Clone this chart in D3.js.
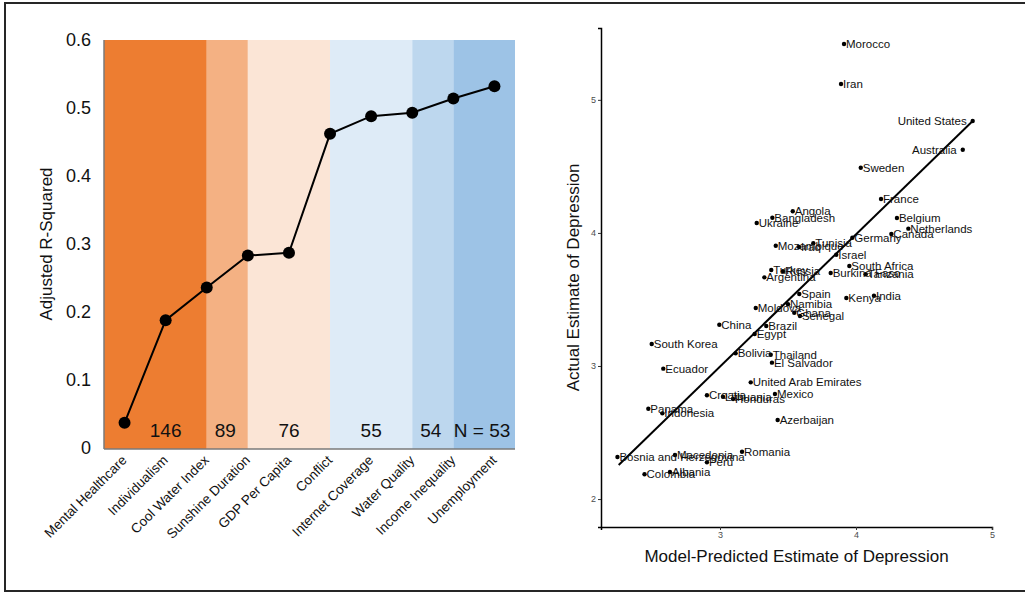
<!DOCTYPE html>
<html>
<head>
<meta charset="utf-8">
<script src="https://cdn.jsdelivr.net/npm/d3@7"></script>
<style>
  body { margin: 0; background: #fff; }
  svg { display: block; font-family: "Liberation Sans", Arial, sans-serif; }
</style>
</head>
<body>
<svg id="chart" width="1025" height="592"></svg>
<script>
// left panel: adjusted R-squared as predictors are added
const predictors = ['Mental Healthcare', 'Individualism', 'Cool Water Index', 'Sunshine Duration',
  'GDP Per Capita', 'Conflict', 'Internet Coverage', 'Water Quality', 'Income Inequality', 'Unemployment'];
const adjR2 = [0.037, 0.188, 0.236, 0.283, 0.287, 0.462, 0.488, 0.493, 0.514, 0.532];
const yTicks = [0, 0.1, 0.2, 0.3, 0.4, 0.5, 0.6];
// background bands (start/end in predictor index units) and sample sizes
const bandStart = [-0.5, 2, 3, 5, 7, 8];
const bandEnd = [2, 3, 5, 7, 8, 9.5];
const bandColors = ['#ED7D31', '#F4B183', '#FBE5D6', '#DEEBF7', '#BDD7EE', '#9DC3E6'];
const sampleLabels = ['146', '89', '76', '55', '54', 'N = 53'];
const sampleAt = [1, 2.45, 4, 6, 7.45, 8.7];

// right panel: actual vs predicted depression
const countries = ['Morocco', 'Iran', 'United States', 'Australia', 'Sweden', 'France', 'Angola',
  'Bangladesh', 'Ukraine', 'Belgium', 'Netherlands', 'Canada', 'Germany', 'Mozambique', 'Iraq',
  'Tunisia', 'Israel', 'South Africa', 'Burkina Faso', 'Tanzania', 'Turkey', 'Russia', 'Argentina',
  'Spain', 'Kenya', 'India', 'Namibia', 'Moldova', 'Ghana', 'Senegal', 'China', 'Brazil', 'Egypt',
  'South Korea', 'Bolivia', 'Thailand', 'El Salvador', 'Ecuador', 'United Arab Emirates', 'Croatia',
  'Lithuania', 'Honduras', 'Mexico', 'Panama', 'Indonesia', 'Azerbaijan', 'Romania',
  'Bosnia and Herzegovina', 'Macedonia', 'Peru', 'Colombia', 'Albania'];
const predicted = [3.912, 3.890, 4.858, 4.785, 4.035, 4.184, 3.535,
  3.385, 3.270, 4.301, 4.385, 4.260, 3.973, 3.410, 3.581,
  3.686, 3.855, 3.951, 3.814, 4.071, 3.377, 3.463, 3.326,
  3.583, 3.929, 4.132, 3.500, 3.263, 3.546, 3.588, 2.995, 3.340, 3.255,
  2.498, 3.115, 3.373, 3.382, 2.583, 3.226, 2.904,
  3.022, 3.096, 3.404, 2.473, 2.576, 3.424, 3.162,
  2.246, 2.669, 2.904, 2.445, 2.632];
const actual = [5.420, 5.119, 4.841, 4.625, 4.490, 4.255, 4.163,
  4.114, 4.075, 4.112, 4.032, 3.992, 3.964, 3.904, 3.894,
  3.922, 3.836, 3.751, 3.699, 3.689, 3.721, 3.712, 3.666,
  3.541, 3.511, 3.528, 3.464, 3.436, 3.400, 3.376, 3.310, 3.301, 3.240,
  3.165, 3.095, 3.085, 3.025, 2.980, 2.877, 2.780,
  2.769, 2.752, 2.789, 2.679, 2.644, 2.594, 2.356,
  2.316, 2.331, 2.276, 2.186, 2.203];
const labelLeft = ['United States', 'Australia'];
const fitX = [2.255, 4.858];
const fitY = [2.256, 4.841];
const xTicksR = [3, 4, 5];
const yTicksR = [2, 3, 4, 5];

const svg = d3.select('#chart');

// outer frame
svg.append('rect')
  .attr('x', 5).attr('y', 3).attr('width', 1030).attr('height', 588)
  .attr('fill', 'none').attr('stroke', '#262626').attr('stroke-width', 2);

// ---------- left panel ----------
const left = svg.append('g');
const xBand = d3.scaleBand().domain(predictors).range([104, 515]);
const xIdx = d3.scaleLinear().domain([0, 1]).range([xBand(predictors[0]) + xBand.bandwidth() / 2,
  xBand(predictors[1]) + xBand.bandwidth() / 2]);
const yL = d3.scaleLinear().domain([0, 0.6]).range([448, 40]);

left.selectAll('rect.band')
  .data(bandColors).enter()
  .append('rect')
  .attr('class', 'band')
  .attr('x', (d, i) => xIdx(bandStart[i]))
  .attr('width', (d, i) => xIdx(bandEnd[i]) - xIdx(bandStart[i]))
  .attr('y', yL(0.6))
  .attr('height', yL(0) - yL(0.6) + 1)
  .attr('fill', d => d);

left.selectAll('text.n')
  .data(sampleLabels).enter()
  .append('text')
  .attr('class', 'n')
  .attr('x', (d, i) => xIdx(sampleAt[i]))
  .attr('y', 437)
  .attr('text-anchor', 'middle')
  .attr('font-size', 19)
  .attr('fill', '#111')
  .text(d => d);

// axes lines
left.append('line').attr('x1', 104).attr('x2', 104).attr('y1', yL(0.6)).attr('y2', yL(0) + 1)
  .attr('stroke', '#7a7a7a').attr('stroke-width', 1.5);
left.append('line').attr('x1', 104).attr('x2', 515).attr('y1', yL(0) + 1).attr('y2', yL(0) + 1)
  .attr('stroke', '#7a7a7a').attr('stroke-width', 1.5);

left.selectAll('text.yt')
  .data(yTicks).enter()
  .append('text')
  .attr('class', 'yt')
  .attr('x', 91)
  .attr('y', d => yL(d))
  .attr('dy', '0.35em')
  .attr('text-anchor', 'end')
  .attr('font-size', 18)
  .attr('fill', '#111')
  .text(d => d === 0 ? '0' : d3.format('.1f')(d));

left.append('text')
  .attr('transform', 'translate(52,' + yL(0.3) + ') rotate(-90)')
  .attr('text-anchor', 'middle')
  .attr('font-size', 17)
  .attr('fill', '#111')
  .text('Adjusted R-Squared');

left.selectAll('text.xl')
  .data(predictors).enter()
  .append('text')
  .attr('class', 'xl')
  .attr('transform', d => 'translate(' + (xBand(d) + xBand.bandwidth() / 2 + 3) + ',461) rotate(-45)')
  .attr('text-anchor', 'end')
  .attr('font-size', 13.5)
  .attr('fill', '#111')
  .text(d => d);

const lineL = d3.line()
  .x((d, i) => xBand(predictors[i]) + xBand.bandwidth() / 2)
  .y(d => yL(d));
left.append('path')
  .datum(adjR2)
  .attr('d', lineL)
  .attr('fill', 'none')
  .attr('stroke', '#000')
  .attr('stroke-width', 2);
left.selectAll('circle')
  .data(adjR2).enter()
  .append('circle')
  .attr('cx', (d, i) => xBand(predictors[i]) + xBand.bandwidth() / 2)
  .attr('cy', d => yL(d))
  .attr('r', 6)
  .attr('fill', '#000');

// ---------- right panel ----------
const right = svg.append('g');
const xR = d3.scaleLinear().domain([2.125, 5]).range([601, 992]);
const yR = d3.scaleLinear().domain([1.79, 5.54]).range([527, 28]);

right.append('g')
  .attr('transform', 'translate(0,527)')
  .call(d3.axisBottom(xR).tickValues(xTicksR).tickSize(3).tickPadding(2).tickFormat(d3.format('d')))
  .call(g => g.select('.domain').attr('stroke', '#000').attr('stroke-width', 1.5))
  .call(g => g.selectAll('.tick line').attr('stroke', '#333'))
  .call(g => g.selectAll('.tick text').attr('fill', '#4d4d4d').attr('font-size', 9)
    .attr('font-family', '"Liberation Sans", Arial, sans-serif'));

right.append('g')
  .attr('transform', 'translate(601,0)')
  .call(d3.axisLeft(yR).tickValues(yTicksR).tickSize(3).tickPadding(2).tickFormat(d3.format('d')))
  .call(g => g.select('.domain').attr('stroke', '#000').attr('stroke-width', 1.5))
  .call(g => g.selectAll('.tick line').attr('stroke', '#333'))
  .call(g => g.selectAll('.tick text').attr('fill', '#4d4d4d').attr('font-size', 9)
    .attr('font-family', '"Liberation Sans", Arial, sans-serif'));

right.append('text')
  .attr('x', (xR.range()[0] + xR.range()[1]) / 2)
  .attr('y', 562)
  .attr('text-anchor', 'middle')
  .attr('font-size', 17)
  .attr('fill', '#111')
  .text('Model-Predicted Estimate of Depression');

right.append('text')
  .attr('transform', 'translate(579,' + (yR.range()[0] + yR.range()[1]) / 2 + ') rotate(-90)')
  .attr('text-anchor', 'middle')
  .attr('font-size', 17)
  .attr('fill', '#111')
  .text('Actual Estimate of Depression');

right.append('line')
  .attr('x1', xR(fitX[0])).attr('y1', yR(fitY[0]))
  .attr('x2', xR(fitX[1])).attr('y2', yR(fitY[1]))
  .attr('stroke', '#000').attr('stroke-width', 2);

right.selectAll('circle')
  .data(countries).enter()
  .append('circle')
  .attr('cx', (d, i) => xR(predicted[i]))
  .attr('cy', (d, i) => yR(actual[i]))
  .attr('r', 2.2)
  .attr('fill', '#000');

right.selectAll('text.lab')
  .data(countries).enter()
  .append('text')
  .attr('class', 'lab')
  .attr('x', (d, i) => xR(predicted[i]) + (labelLeft.includes(d) ? -6 : 2))
  .attr('y', (d, i) => yR(actual[i]))
  .attr('dy', '0.35em')
  .attr('text-anchor', d => labelLeft.includes(d) ? 'end' : 'start')
  .attr('font-size', 11.5)
  .attr('fill', '#111')
  .text(d => d);
</script>
</body>
</html>
